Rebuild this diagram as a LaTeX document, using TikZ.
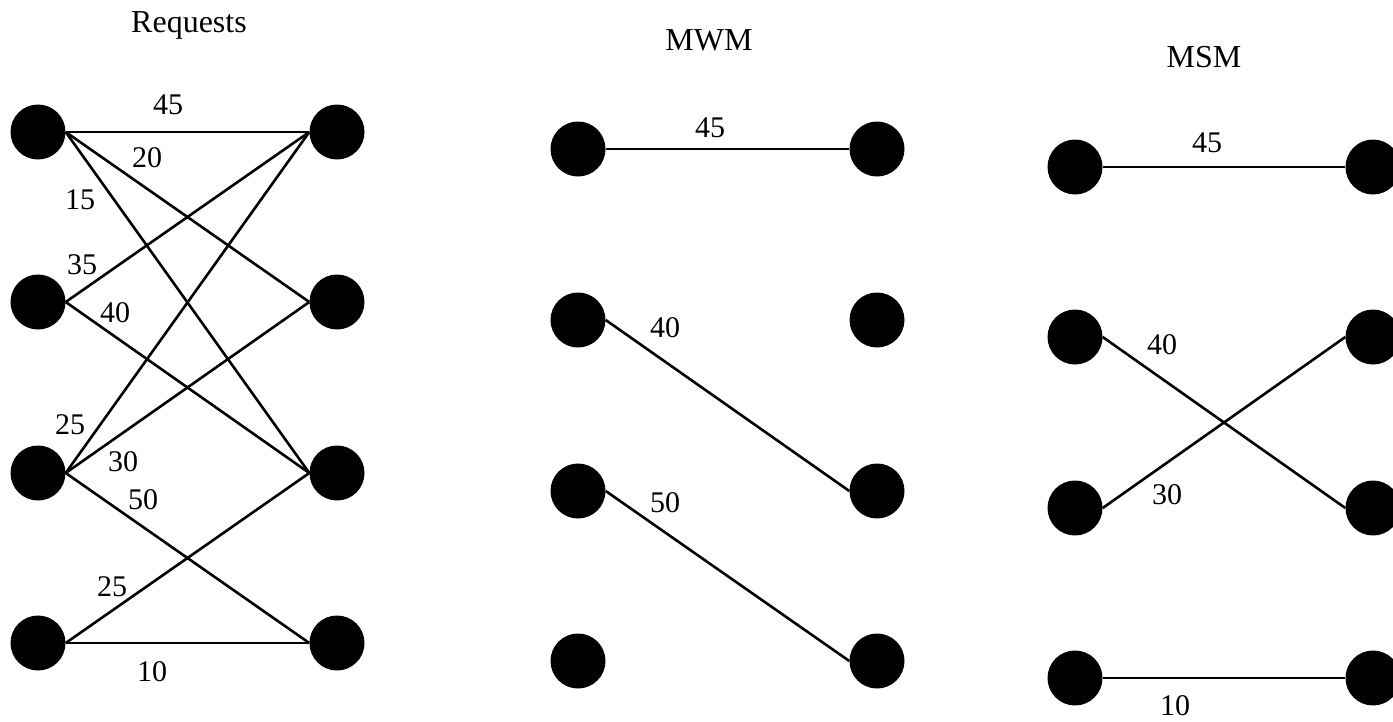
\documentclass[tikz,border=0pt]{standalone}
\usepackage{fontspec}
\setmainfont{Liberation Serif}
\begin{document}
\begin{tikzpicture}[x=1pt,y=-1pt,
  vertex/.style={circle,fill=black,draw=none,inner sep=0pt,minimum size=55pt},
  edge/.style={line width=2.6pt},
  weight/.style={font=\fontsize{30}{36}\selectfont,inner sep=0pt,anchor=center},
  heading/.style={font=\fontsize{32}{38}\selectfont,inner sep=0pt,anchor=base}]
\useasboundingbox (0,0) rectangle (1393,721);

% ---- Requests ----
\node[heading] (tr) at (189,32) {Requests};
\foreach \i/\y in {1/132,2/302,3/473,4/643}{
  \node[vertex] (ra\i) at (38,\y) {};
  \node[vertex] (rb\i) at (337,\y) {};
}
\draw[edge] (ra1.east) -- (rb1.west);
\draw[edge] (ra1.east) -- (rb2.west);
\draw[edge] (ra1.east) -- (rb3.west);
\draw[edge] (ra2.east) -- (rb1.west);
\draw[edge] (ra2.east) -- (rb3.west);
\draw[edge] (ra3.east) -- (rb1.west);
\draw[edge] (ra3.east) -- (rb2.west);
\draw[edge] (ra3.east) -- (rb4.west);
\draw[edge] (ra4.east) -- (rb3.west);
\draw[edge] (ra4.east) -- (rb4.west);
\node[weight] (w1) at (168,105) {45};
\node[weight] (w2) at (147,158) {20};
\node[weight] (w3) at (80,200) {15};
\node[weight] (w4) at (82,265) {35};
\node[weight] (w5) at (115,313) {40};
\node[weight] (w6) at (70,425) {25};
\node[weight] (w7) at (123,462) {30};
\node[weight] (w8) at (143,500) {50};
\node[weight] (w9) at (112,587) {25};
\node[weight] (w10) at (152,672) {10};

% ---- MWM ----
\node[heading] (tw) at (709,50) {MWM};
\foreach \i/\y in {1/149,2/320,3/491,4/661}{
  \node[vertex] (wa\i) at (578,\y) {};
  \node[vertex] (wb\i) at (877,\y) {};
}
\draw[edge] (wa1.east) -- (wb1.west);
\draw[edge] (wa2.east) -- (wb3.west);
\draw[edge] (wa3.east) -- (wb4.west);
\node[weight] (m1) at (710,128) {45};
\node[weight] (m2) at (665,328) {40};
\node[weight] (m3) at (665,503) {50};

% ---- MSM ----
\node[heading] (ts) at (1204,67) {MSM};
\foreach \i/\y in {1/167,2/337,3/508,4/678}{
  \node[vertex] (sa\i) at (1075,\y) {};
  \node[vertex] (sb\i) at (1373,\y) {};
}
\draw[edge] (sa1.east) -- (sb1.west);
\draw[edge] (sa2.east) -- (sb3.west);
\draw[edge] (sa3.east) -- (sb2.west);
\draw[edge] (sa4.east) -- (sb4.west);
\node[weight] (s1) at (1207,143) {45};
\node[weight] (s2) at (1162,345) {40};
\node[weight] (s3) at (1167,495) {30};
\node[weight] (s4) at (1175,706) {10};
\end{tikzpicture}
\end{document}
